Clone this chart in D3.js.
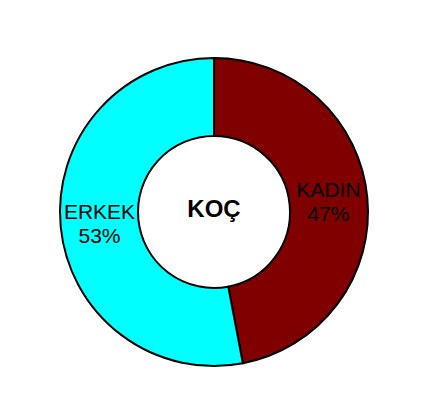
<!DOCTYPE html>
<html><head><meta charset="utf-8">
<script src="https://cdn.jsdelivr.net/npm/d3@7"></script>
<style>html,body{margin:0;padding:0;background:#fff;}</style>
</head><body>
<svg id="c" width="426" height="408"></svg>
<script>
const categories = ["KADIN", "ERKEK"];
const values = [47, 53];
const colors = ["#800000", "#00FFFF"];
const title = "KOÇ";

const svg = d3.select("#c");
const cx = 214, cy = 212, R = 154, r = 76;
const g = svg.append("g").attr("transform", `translate(${cx},${cy})`);
const pie = d3.pie().sort(null).value(d => d.v);
const data = pie(categories.map((c, i) => ({c, v: values[i], col: colors[i]})));
const arc = d3.arc().innerRadius(r).outerRadius(R);
g.selectAll("path").data(data).enter().append("path")
  .attr("d", arc).attr("fill", d => d.data.col)
  .attr("stroke", "#000").attr("stroke-width", 2);
const total = d3.sum(values);
const lab = g.selectAll("text.l").data(data).enter().append("text")
  .attr("class", "l")
  .attr("font-family", "Liberation Sans, Arial, sans-serif")
  .attr("font-size", 21).attr("fill", "#000").attr("text-anchor", "middle")
  .attr("transform", d => { const p = arc.centroid(d); return `translate(${p[0]},${p[1]})`; });
lab.append("tspan").attr("x", 0).attr("y", -4).text(d => d.data.c);
lab.append("tspan").attr("x", 0).attr("y", 20).text(d => Math.round(d.data.v / total * 100) + "%");
g.append("text").attr("text-anchor", "middle").attr("y", 5)
  .attr("font-family", "Liberation Sans, Arial, sans-serif")
  .attr("font-size", 24).attr("font-weight", "bold").text(title);
</script>
</body></html>
